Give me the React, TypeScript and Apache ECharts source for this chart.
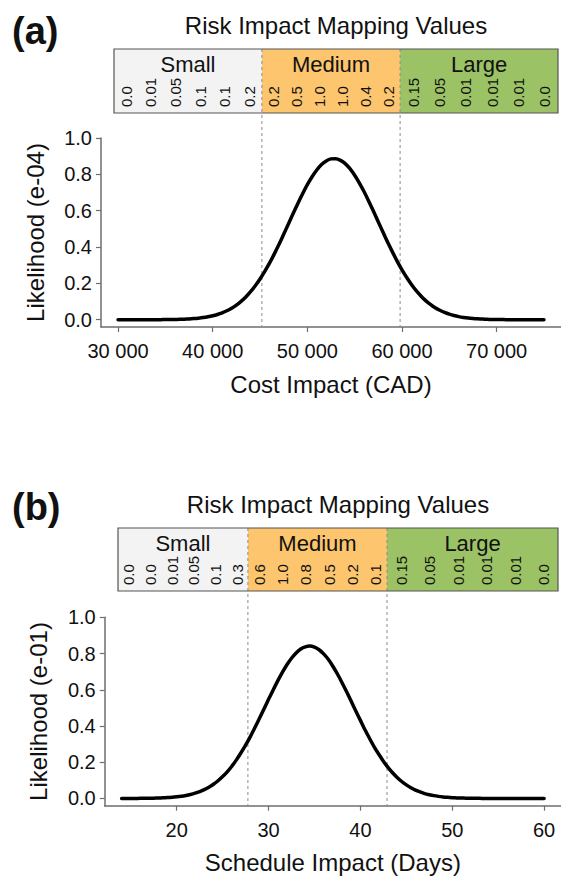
import React, { useEffect, useRef } from 'react';
import * as echarts from 'echarts';

// ---------- data ----------
const costX = [30000, 30500, 31000, 31500, 32000, 32500, 33000, 33500, 34000, 34500, 35000, 35500, 36000, 36500, 37000, 37500, 38000, 38500, 39000, 39500, 40000, 40500, 41000, 41500, 42000, 42500, 43000, 43500, 44000, 44500, 45000, 45500, 46000, 46500, 47000, 47500, 48000, 48500, 49000, 49500, 50000, 50500, 51000, 51500, 52000, 52500, 53000, 53500, 54000, 54500, 55000, 55500, 56000, 56500, 57000, 57500, 58000, 58500, 59000, 59500, 60000, 60500, 61000, 61500, 62000, 62500, 63000, 63500, 64000, 64500, 65000, 65500, 66000, 66500, 67000, 67500, 68000, 68500, 69000, 69500, 70000, 70500, 71000, 71500, 72000, 72500, 73000, 73500, 74000, 74500, 75000];
const costY = [0, 0, 0, 0, 0.0001, 0.0001, 0.0001, 0.0002, 0.0003, 0.0005, 0.0007, 0.001, 0.0015, 0.0022, 0.0031, 0.0044, 0.0062, 0.0087, 0.0119, 0.0162, 0.0217, 0.0289, 0.038, 0.0493, 0.063, 0.0804, 0.101, 0.125, 0.154, 0.187, 0.224, 0.266, 0.311, 0.361, 0.414, 0.47, 0.527, 0.584, 0.64, 0.693, 0.743, 0.787, 0.824, 0.854, 0.874, 0.885, 0.886, 0.877, 0.859, 0.831, 0.795, 0.752, 0.704, 0.651, 0.595, 0.538, 0.481, 0.425, 0.372, 0.321, 0.274, 0.232, 0.194, 0.16, 0.131, 0.105, 0.084, 0.066, 0.052, 0.04, 0.0305, 0.023, 0.0172, 0.0127, 0.0092, 0.0067, 0.0048, 0.0034, 0.0023, 0.0016, 0.0011, 0.0007, 0.0005, 0.0003, 0.0002, 0.0001, 0.0001, 0.0001, 0, 0, 0];

const schedX = [14, 14.5, 15, 15.5, 16, 16.5, 17, 17.5, 18, 18.5, 19, 19.5, 20, 20.5, 21, 21.5, 22, 22.5, 23, 23.5, 24, 24.5, 25, 25.5, 26, 26.5, 27, 27.5, 28, 28.5, 29, 29.5, 30, 30.5, 31, 31.5, 32, 32.5, 33, 33.5, 34, 34.5, 35, 35.5, 36, 36.5, 37, 37.5, 38, 38.5, 39, 39.5, 40, 40.5, 41, 41.5, 42, 42.5, 43, 43.5, 44, 44.5, 45, 45.5, 46, 46.5, 47, 47.5, 48, 48.5, 49, 49.5, 50, 50.5, 51, 51.5, 52, 52.5, 53, 53.5, 54, 54.5, 55, 55.5, 56, 56.5, 57, 57.5, 58, 58.5, 59, 59.5, 60];
const schedY = [0.0001, 0.0001, 0.0002, 0.0003, 0.0005, 0.0008, 0.0011, 0.0016, 0.0023, 0.0033, 0.0047, 0.0065, 0.009, 0.0122, 0.0165, 0.022, 0.029, 0.0377, 0.0486, 0.0621, 0.0783, 0.0977, 0.121, 0.147, 0.178, 0.213, 0.252, 0.294, 0.34, 0.39, 0.441, 0.494, 0.547, 0.599, 0.649, 0.696, 0.738, 0.774, 0.803, 0.825, 0.837, 0.841, 0.835, 0.821, 0.798, 0.768, 0.73, 0.687, 0.639, 0.589, 0.536, 0.483, 0.431, 0.379, 0.331, 0.285, 0.244, 0.206, 0.172, 0.142, 0.116, 0.0936, 0.075, 0.0591, 0.046, 0.0358, 0.027, 0.0208, 0.0155, 0.0115, 0.0084, 0.0061, 0.0044, 0.0031, 0.0022, 0.0015, 0.001, 0.0007, 0.0005, 0.0003, 0.0002, 0.0001, 0.0001, 0.0001, 0, 0, 0, 0, 0, 0, 0, 0, 0];

const costTicks = [30000, 40000, 50000, 60000, 70000];
const schedTicks = [20, 30, 40, 50, 60];
const likelihoodTicks = [0, 0.2, 0.4, 0.6, 0.8, 1.0];

const categories = ['Small', 'Medium', 'Large'];
const costMapping = [
  ['0.0', '0.01', '0.05', '0.1', '0.1', '0.2'],
  ['0.2', '0.5', '1.0', '1.0', '0.4', '0.2'],
  ['0.15', '0.05', '0.01', '0.01', '0.01', '0.0'],
];
const schedMapping = [
  ['0.0', '0.0', '0.01', '0.05', '0.1', '0.3'],
  ['0.6', '1.0', '0.8', '0.5', '0.2', '0.1'],
  ['0.15', '0.05', '0.01', '0.01', '0.01', '0.0'],
];
const costThresholds = [45200, 59800];
const schedThresholds = [27.75, 42.9];

// ---------- style / layout ----------
const FONT = '"Liberation Sans", Arial, Helvetica, sans-serif';
const SECTION_COLORS = ['#f3f3f3', '#fcc56e', '#9bc264'];
const AXIS_COLOR = '#6e6e6e';
const TEXT_COLOR = '#111111';

const panels = [
  {
    tag: '(a)', tagY: 31, titleY: 25,
    box: { left: 114, right: 558, top: 49, bottom: 113 },
    mapping: costMapping, thresholds: costThresholds,
  },
  {
    tag: '(b)', tagY: 507, titleY: 504,
    box: { left: 118, right: 558, top: 528, bottom: 591 },
    mapping: schedMapping, thresholds: schedThresholds,
  },
];

const thousands = (v: number) => {
  const s = String(Math.round(v));
  return s.length > 3 ? s.slice(0, -3) + ' ' + s.slice(-3) : s;
};

function xAxisCfg(gi: number, min: number, max: number, ticks: number[], name: string, fmt?: (v: number) => string) {
  return {
    type: 'value', gridIndex: gi, min, max,
    axisLine: { show: true, onZero: false, lineStyle: { color: AXIS_COLOR, width: 1.5 } },
    axisTick: { show: true, length: 5, customValues: ticks, lineStyle: { color: AXIS_COLOR, width: 1.2 } },
    axisLabel: { customValues: ticks, formatter: fmt, fontSize: 20, color: TEXT_COLOR, margin: 14, fontFamily: FONT },
    splitLine: { show: false },
    name, nameLocation: 'middle', nameGap: 45,
    nameTextStyle: { fontSize: 24, color: TEXT_COLOR, fontFamily: FONT },
  };
}
function yAxisCfg(gi: number, name: string) {
  return {
    type: 'value', gridIndex: gi, min: -0.04, max: 1.0,
    axisLine: { show: true, onZero: false, lineStyle: { color: AXIS_COLOR, width: 1.5 } },
    axisTick: { show: true, length: 5, customValues: likelihoodTicks, lineStyle: { color: AXIS_COLOR, width: 1.2 } },
    axisLabel: { customValues: likelihoodTicks, formatter: (v: number) => v.toFixed(1), fontSize: 20, color: TEXT_COLOR, margin: 9, fontFamily: FONT },
    splitLine: { show: false },
    name, nameLocation: 'middle', nameGap: 54,
    nameTextStyle: { fontSize: 24, color: TEXT_COLOR, fontFamily: FONT },
  };
}

export default function App() {
  const ref = useRef<HTMLDivElement>(null);
  useEffect(() => {
    if (!ref.current) return;
    const chart = echarts.init(ref.current, null, { renderer: 'svg' });
    const lineSeries = (gi: number, xs: number[], ys: number[]) => ({
      type: 'line', xAxisIndex: gi, yAxisIndex: gi,
      data: xs.map((x, i) => [x, ys[i]]),
      showSymbol: false, smooth: 0.2,
      lineStyle: { color: '#000', width: 3.5, cap: 'round', join: 'round' }, z: 5, silent: true,
    });
    chart.setOption({
      animation: false,
      textStyle: { fontFamily: FONT },
      grid: [
        { left: 101, top: 138, width: 467, height: 189 },
        { left: 104.7, top: 617.3, width: 466.3, height: 188.4 },
      ],
      xAxis: [
        xAxisCfg(0, 28200, 76800, costTicks, 'Cost Impact (CAD)', thousands),
        xAxisCfg(1, 12.16, 61.84, schedTicks, 'Schedule Impact (Days)', (v: number) => String(v)),
      ],
      yAxis: [yAxisCfg(0, 'Likelihood (e-04)'), yAxisCfg(1, 'Likelihood (e-01)')],
      series: [lineSeries(0, costX, costY), lineSeries(1, schedX, schedY)],
    });

    const graphics: any[] = [];
    panels.forEach((p, gi) => {
      const { box } = p;
      const bottomY = chart.convertToPixel({ gridIndex: gi } as any, [0, -0.04])[1];
      const cuts = p.thresholds.map((t) => chart.convertToPixel({ gridIndex: gi } as any, [t, 0])[0]);
      const edges = [box.left, cuts[0], cuts[1], box.right];
      graphics.push({
        type: 'text', x: 12, y: p.tagY, z: 10,
        style: { text: p.tag, fontSize: 38, fontWeight: 'bold', fontFamily: FONT, fill: TEXT_COLOR, align: 'left', verticalAlign: 'middle', textAlign: 'left', textVerticalAlign: 'middle' },
      });
      graphics.push({
        type: 'text', x: (box.left + box.right) / 2, y: p.titleY, z: 10,
        style: { text: 'Risk Impact Mapping Values', fontSize: 24, fontFamily: FONT, fill: TEXT_COLOR, align: 'center', verticalAlign: 'middle', textAlign: 'center', textVerticalAlign: 'middle' },
      });
      for (let s = 0; s < 3; s++) {
        const l = edges[s], r = edges[s + 1];
        graphics.push({
          type: 'rect', z: 0, silent: true,
          shape: { x: l, y: box.top, width: r - l, height: box.bottom - box.top },
          style: { fill: SECTION_COLORS[s] },
        });
        graphics.push({
          type: 'text', x: (l + r) / 2, y: box.top + 15, z: 10,
          style: { text: categories[s], fontSize: 22, fontFamily: FONT, fill: TEXT_COLOR, align: 'center', verticalAlign: 'middle', textAlign: 'center', textVerticalAlign: 'middle' },
        });
        const vals = p.mapping[s];
        const w = (r - l) / vals.length;
        vals.forEach((v, k) => {
          graphics.push({
            type: 'text', x: l + w * (k + 0.5), y: box.bottom - 6, rotation: Math.PI / 2, z: 10,
            style: { text: v, fontSize: 15, fontFamily: FONT, fill: TEXT_COLOR, align: 'left', verticalAlign: 'middle', textAlign: 'left', textVerticalAlign: 'middle' },
          });
        });
      }
      graphics.push({
        type: 'rect', z: 2, silent: true,
        shape: { x: box.left, y: box.top, width: box.right - box.left, height: box.bottom - box.top },
        style: { fill: 'none', stroke: '#555555', lineWidth: 1.2 },
      });
      cuts.forEach((cx) => {
        graphics.push({
          type: 'line', z: 1, silent: true,
          shape: { x1: cx, y1: box.top, x2: cx, y2: bottomY },
          style: { stroke: '#8a8a8a', lineWidth: 1, lineDash: [3, 3] },
        });
      });
    });
    chart.setOption({ graphic: graphics });
    return () => chart.dispose();
  }, []);
  return <div ref={ref} style={{ position: 'absolute', left: 0, top: 0, width: 561, height: 882, background: '#fff' }} />;
}
